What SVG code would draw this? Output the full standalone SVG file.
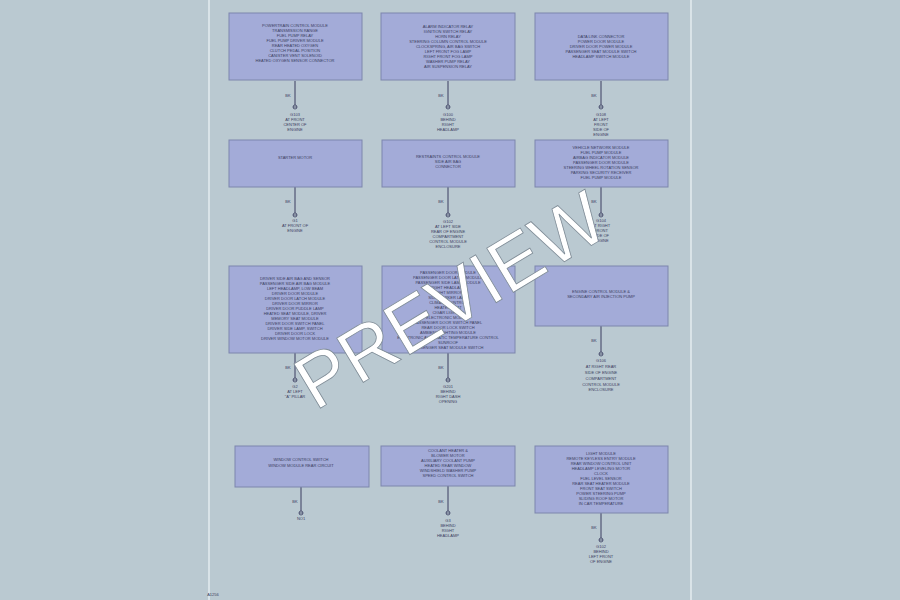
<svg xmlns="http://www.w3.org/2000/svg" width="900" height="600" viewBox="0 0 900 600">
<style>
.bg{fill:#bac9d1}
.page{fill:#bac9d1;stroke:#e4ecef;stroke-width:1.5}
.box{fill:#a3abd8;stroke:#7d86ad;stroke-width:1}
.t{font-family:"Liberation Sans",Arial,sans-serif;font-size:4px;fill:#3a3d60;text-anchor:middle}
.w{stroke:#3a3d60;stroke-width:1;fill:none}
.g{stroke:#3a3d60;stroke-width:0.8;fill:none}
.wm{font-family:"Liberation Sans",Arial,sans-serif;font-size:75px;fill:#ffffff;stroke:#7d8a95;stroke-width:0.8;text-anchor:middle}
</style>
<defs>
<g id="gnd"><circle class="g" cx="0" cy="0" r="2"/><line class="g" x1="-2" y1="0" x2="2" y2="0"/></g>
</defs>
<rect class="bg" x="0" y="0" width="900" height="600"/>
<rect class="page" x="209" y="-2" width="482" height="604"/>

<g id="connectors">
<line class="w" x1="295" y1="81" x2="295" y2="105"/>
<line class="w" x1="448" y1="81" x2="448" y2="105"/>
<line class="w" x1="601" y1="81" x2="601" y2="105"/>
<line class="w" x1="295" y1="187" x2="295" y2="213"/>
<line class="w" x1="448" y1="187" x2="448" y2="213"/>
<line class="w" x1="601" y1="187" x2="601" y2="213"/>
<line class="w" x1="295" y1="353" x2="295" y2="378"/>
<line class="w" x1="448" y1="353" x2="448" y2="378"/>
<line class="w" x1="601" y1="326" x2="601" y2="352"/>
<line class="w" x1="301" y1="487" x2="301" y2="511"/>
<line class="w" x1="448" y1="486" x2="448" y2="511"/>
<line class="w" x1="601" y1="513" x2="601" y2="538"/>
</g>

<g id="n1">
<rect class="box" x="229" y="13" width="133" height="67"/>
<text class="t" x="295" y="27">POWERTRAIN CONTROL MODULE</text>
<text class="t" x="295" y="32">TRANSMISSION RANGE</text>
<text class="t" x="295" y="37">FUEL PUMP RELAY</text>
<text class="t" x="295" y="42">FUEL PUMP DRIVER MODULE</text>
<text class="t" x="295" y="47">REAR HEATED OXYGEN</text>
<text class="t" x="295" y="52">CLUTCH PEDAL POSITION</text>
<text class="t" x="295" y="57">CANISTER VENT SOLENOID</text>
<text class="t" x="295" y="62">HEATED OXYGEN SENSOR CONNECTOR</text>
<text class="t" x="288" y="97" text-anchor="end">BK</text>
<use href="#gnd" x="295" y="107"/>
<text class="t" x="295" y="116">G103</text>
<text class="t" x="295" y="121">AT FRONT</text>
<text class="t" x="295" y="126">CENTER OF</text>
<text class="t" x="295" y="131">ENGINE</text>
</g>

<g id="n2">
<rect class="box" x="381" y="13" width="134" height="67"/>
<text class="t" x="448" y="28">ALARM INDICATOR RELAY</text>
<text class="t" x="448" y="33">IGNITION SWITCH RELAY</text>
<text class="t" x="448" y="38">HORN RELAY</text>
<text class="t" x="448" y="43">STEERING COLUMN CONTROL MODULE</text>
<text class="t" x="448" y="48">CLOCKSPRING, AIR BAG SWITCH</text>
<text class="t" x="448" y="53">LEFT FRONT FOG LAMP</text>
<text class="t" x="448" y="58">RIGHT FRONT FOG LAMP</text>
<text class="t" x="448" y="63">WASHER PUMP RELAY</text>
<text class="t" x="448" y="68">AIR SUSPENSION RELAY</text>
<text class="t" x="441" y="97" text-anchor="end">BK</text>
<use href="#gnd" x="448" y="107"/>
<text class="t" x="448" y="116">G100</text>
<text class="t" x="448" y="121">BEHIND</text>
<text class="t" x="448" y="126">RIGHT</text>
<text class="t" x="448" y="131">HEADLAMP</text>
</g>

<g id="n3">
<rect class="box" x="535" y="13" width="133" height="67"/>
<text class="t" x="601" y="38">DATA LINK CONNECTOR</text>
<text class="t" x="601" y="43">POWER DOOR MODULE</text>
<text class="t" x="601" y="48">DRIVER DOOR POWER MODULE</text>
<text class="t" x="601" y="53">PASSENGER SEAT MODULE SWITCH</text>
<text class="t" x="601" y="58">HEADLAMP SWITCH MODULE</text>
<text class="t" x="594" y="97" text-anchor="end">BK</text>
<use href="#gnd" x="601" y="107"/>
<text class="t" x="601" y="116">G108</text>
<text class="t" x="601" y="121">AT LEFT</text>
<text class="t" x="601" y="126">FRONT</text>
<text class="t" x="601" y="131">SIDE OF</text>
<text class="t" x="601" y="136">ENGINE</text>
</g>

<g id="n4">
<rect class="box" x="229" y="140" width="133" height="47"/>
<text class="t" x="295" y="159">STARTER MOTOR</text>
<text class="t" x="288" y="203" text-anchor="end">BK</text>
<use href="#gnd" x="295" y="215"/>
<text class="t" x="295" y="222">G1</text>
<text class="t" x="295" y="227">AT FRONT OF</text>
<text class="t" x="295" y="232">ENGINE</text>
</g>

<g id="n5">
<rect class="box" x="382" y="140" width="133" height="47"/>
<text class="t" x="448" y="158">RESTRAINTS CONTROL MODULE</text>
<text class="t" x="448" y="163">SIDE AIR BAG</text>
<text class="t" x="448" y="168">CONNECTOR</text>
<text class="t" x="441" y="203" text-anchor="end">BK</text>
<use href="#gnd" x="448" y="215"/>
<text class="t" x="448" y="223">G102</text>
<text class="t" x="448" y="228">AT LEFT SIDE</text>
<text class="t" x="448" y="233">REAR OF ENGINE</text>
<text class="t" x="448" y="238">COMPARTMENT</text>
<text class="t" x="448" y="243">CONTROL MODULE</text>
<text class="t" x="448" y="248">ENCLOSURE</text>
</g>

<g id="n6">
<rect class="box" x="535" y="140" width="133" height="47"/>
<text class="t" x="601" y="149">VEHICLE NETWORK MODULE</text>
<text class="t" x="601" y="154">FUEL PUMP MODULE</text>
<text class="t" x="601" y="159">AIRBAG INDICATOR MODULE</text>
<text class="t" x="601" y="164">PASSENGER DOOR MODULE</text>
<text class="t" x="601" y="169">STEERING WHEEL ROTATION SENSOR</text>
<text class="t" x="601" y="174">PARKING SECURITY RECEIVER</text>
<text class="t" x="601" y="179">FUEL PUMP MODULE</text>
<text class="t" x="594" y="203" text-anchor="end">BK</text>
<use href="#gnd" x="601" y="215"/>
<text class="t" x="601" y="222">G104</text>
<text class="t" x="601" y="227">AT RIGHT</text>
<text class="t" x="601" y="232">FRONT</text>
<text class="t" x="601" y="237">SIDE OF</text>
<text class="t" x="601" y="242">ENGINE</text>
</g>

<g id="n7">
<rect class="box" x="229" y="266" width="133" height="87"/>
<text class="t" x="295" y="280">DRIVER SIDE AIR BAG AND SENSOR</text>
<text class="t" x="295" y="285">PASSENGER SIDE AIR BAG MODULE</text>
<text class="t" x="295" y="290">LEFT HEADLAMP, LOW BEAM</text>
<text class="t" x="295" y="295">DRIVER DOOR MODULE</text>
<text class="t" x="295" y="300">DRIVER DOOR LATCH MODULE</text>
<text class="t" x="295" y="305">DRIVER DOOR MIRROR</text>
<text class="t" x="295" y="310">DRIVER DOOR PUDDLE LAMP</text>
<text class="t" x="295" y="315">HEATED SEAT MODULE, DRIVER</text>
<text class="t" x="295" y="320">MEMORY SEAT MODULE</text>
<text class="t" x="295" y="325">DRIVER DOOR SWITCH PANEL</text>
<text class="t" x="295" y="330">DRIVER SIDE LAMP, SWITCH</text>
<text class="t" x="295" y="335">DRIVER DOOR LOCK</text>
<text class="t" x="295" y="340">DRIVER WINDOW MOTOR MODULE</text>
<text class="t" x="288" y="369" text-anchor="end">BK</text>
<use href="#gnd" x="295" y="380"/>
<text class="t" x="295" y="388">G2</text>
<text class="t" x="295" y="393">AT LEFT</text>
<text class="t" x="295" y="398">"A" PILLAR</text>
</g>

<g id="n8">
<rect class="box" x="382" y="266" width="133" height="87"/>
<text class="t" x="448" y="274">PASSENGER DOOR MODULE</text>
<text class="t" x="448" y="279">PASSENGER DOOR LATCH MODULE</text>
<text class="t" x="448" y="284">PASSENGER SIDE LAMP MODULE</text>
<text class="t" x="448" y="289">RIGHT HEADLAMP</text>
<text class="t" x="448" y="294">RIGHT MIRROR</text>
<text class="t" x="448" y="299">SIDE MARKER LAMP</text>
<text class="t" x="448" y="304">CLIMATE CONTROL</text>
<text class="t" x="448" y="309">HEATED SEAT</text>
<text class="t" x="448" y="314">CIGAR LIGHTER</text>
<text class="t" x="448" y="319">ELECTRONIC MODULE</text>
<text class="t" x="448" y="324">PASSENGER DOOR SWITCH PANEL</text>
<text class="t" x="448" y="329">REAR DOOR LOCK SWITCH</text>
<text class="t" x="448" y="334">AMBIENT LIGHTING MODULE</text>
<text class="t" x="448" y="339">ELECTRONIC AUTOMATIC TEMPERATURE CONTROL</text>
<text class="t" x="448" y="344">SUNROOF</text>
<text class="t" x="448" y="349">PASSENGER SEAT MODULE SWITCH</text>
<text class="t" x="441" y="369" text-anchor="end">BK</text>
<use href="#gnd" x="448" y="380"/>
<text class="t" x="448" y="388">G201</text>
<text class="t" x="448" y="393">BEHIND</text>
<text class="t" x="448" y="398">RIGHT DASH</text>
<text class="t" x="448" y="403">OPENING</text>
</g>

<g id="n9">
<rect class="box" x="535" y="266" width="133" height="60"/>
<text class="t" x="601" y="293">ENGINE CONTROL MODULE &amp;</text>
<text class="t" x="601" y="298">SECONDARY AIR INJECTION PUMP</text>
<text class="t" x="594" y="342" text-anchor="end">BK</text>
<use href="#gnd" x="601" y="354"/>
<text class="t" x="601" y="362">G106</text>
<text class="t" x="601" y="368">AT RIGHT REAR</text>
<text class="t" x="601" y="374">SIDE OF ENGINE</text>
<text class="t" x="601" y="380">COMPARTMENT</text>
<text class="t" x="601" y="386">CONTROL MODULE</text>
<text class="t" x="601" y="391">ENCLOSURE</text>
</g>

<g id="n10">
<rect class="box" x="235" y="446" width="134" height="41"/>
<text class="t" x="301" y="461">WINDOW CONTROL SWITCH</text>
<text class="t" x="301" y="467">WINDOW MODULE REAR CIRCUIT</text>
<text class="t" x="295" y="503" text-anchor="end">BK</text>
<use href="#gnd" x="301" y="513"/>
<text class="t" x="301" y="520">NO1</text>
</g>

<g id="n11">
<rect class="box" x="381" y="446" width="134" height="40"/>
<text class="t" x="448" y="452">COOLANT HEATER &amp;</text>
<text class="t" x="448" y="457">BLOWER MOTOR</text>
<text class="t" x="448" y="462">AUXILIARY COOLANT PUMP</text>
<text class="t" x="448" y="467">HEATED REAR WINDOW</text>
<text class="t" x="448" y="472">WINDSHIELD WASHER PUMP</text>
<text class="t" x="448" y="477">SPEED CONTROL SWITCH</text>
<text class="t" x="441" y="503" text-anchor="end">BK</text>
<use href="#gnd" x="448" y="513"/>
<text class="t" x="448" y="522">G3</text>
<text class="t" x="448" y="527">BEHIND</text>
<text class="t" x="448" y="532">RIGHT</text>
<text class="t" x="448" y="537">HEADLAMP</text>
</g>

<g id="n12">
<rect class="box" x="535" y="446" width="133" height="67"/>
<text class="t" x="601" y="455">LIGHT MODULE</text>
<text class="t" x="601" y="460">REMOTE KEYLESS ENTRY MODULE</text>
<text class="t" x="601" y="465">REAR WINDOW CONTROL UNIT</text>
<text class="t" x="601" y="470">HEADLAMP LEVELING MOTOR</text>
<text class="t" x="601" y="475">CLOCK</text>
<text class="t" x="601" y="480">FUEL LEVEL SENSOR</text>
<text class="t" x="601" y="485">REAR SEAT HEATER MODULE</text>
<text class="t" x="601" y="490">FRONT SEAT SWITCH</text>
<text class="t" x="601" y="495">POWER STEERING PUMP</text>
<text class="t" x="601" y="500">SLIDING ROOF MOTOR</text>
<text class="t" x="601" y="505">IN CAR TEMPERATURE</text>
<text class="t" x="594" y="529" text-anchor="end">BK</text>
<use href="#gnd" x="601" y="540"/>
<text class="t" x="601" y="548">G102</text>
<text class="t" x="601" y="553">BEHIND</text>
<text class="t" x="601" y="558">LEFT FRONT</text>
<text class="t" x="601" y="563">OF ENGINE</text>
</g>

<text class="t" x="213" y="596" text-anchor="start">A1256</text>
<text class="wm" x="450" y="326" transform="rotate(-31 450 300)">PREVIEW</text>
</svg>
